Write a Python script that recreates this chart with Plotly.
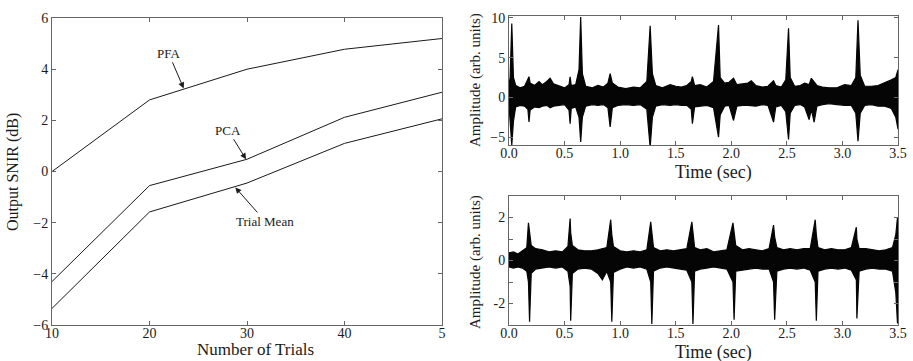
import plotly.graph_objects as go

# ---------------- Left panel data ----------------
trials = [10, 20, 30, 40, 50]
snir_pfa = [0.0, 2.8, 4.0, 4.78, 5.2]
snir_pca = [-4.3, -0.55, 0.48, 2.12, 3.1]
snir_mean = [-5.35, -1.58, -0.45, 1.1, 2.06]
trial_ticks = [10, 20, 30, 40, 50]
trial_ticklabels = ["10", "20", "30", "40", "5"]
snir_ticks = [-6, -4, -2, 0, 2, 4, 6]

# ---------------- Top-right signal envelope ----------------
top_t = [0.00, 0.01, 0.025, 0.04, 0.06, 0.10, 0.14, 0.17, 0.18, 0.19, 0.23, 0.27, 0.30, 0.34,
         0.37, 0.40, 0.45, 0.50, 0.54, 0.55, 0.56, 0.60, 0.63, 0.645, 0.66, 0.69, 0.75, 0.80,
         0.85, 0.89, 0.91, 0.93, 0.98, 1.05, 1.12, 1.18, 1.24, 1.27, 1.29, 1.32, 1.38, 1.45,
         1.50, 1.55, 1.60, 1.64, 1.65, 1.67, 1.72, 1.78, 1.84, 1.885, 1.90, 1.94, 1.98, 2.02,
         2.05, 2.10, 2.15, 2.18, 2.22, 2.28, 2.33, 2.38, 2.40, 2.45, 2.49, 2.515, 2.53, 2.57,
         2.62, 2.66, 2.70, 2.72, 2.745, 2.77, 2.82, 2.88, 2.95, 3.02, 3.08, 3.12, 3.14, 3.16,
         3.20, 3.26, 3.32, 3.38, 3.44, 3.48, 3.50]
top_upper = [1.5, 2.5, 9.3, 2.5, 1.5, 1.2, 1.4, 2.3, 2.6, 1.8, 1.5, 2.0, 1.6, 2.0,
             2.4, 1.7, 1.4, 1.2, 1.6, 2.6, 1.5, 1.6, 3.5, 10.1, 3.0, 1.4, 1.2, 1.5,
             1.3, 1.8, 3.0, 1.8, 1.3, 1.1, 1.3, 1.2, 2.0, 9.0, 3.0, 1.5, 1.2, 1.6,
             1.4, 1.3, 1.5, 2.0, 2.6, 1.5, 1.6, 1.3, 2.0, 9.1, 2.5, 1.8, 1.9, 2.4,
             1.6, 1.7, 1.8, 2.1, 1.5, 1.3, 1.4, 2.1, 1.5, 1.3, 2.2, 8.7, 2.5, 1.4,
             1.5, 1.8, 1.6, 2.4, 2.0, 1.5, 1.3, 1.2, 1.2, 1.6, 1.5, 2.5, 9.7, 2.8,
             1.4, 1.4, 1.5, 1.8, 2.2, 2.5, 3.5]
top_lower = [-1.0, -2.5, -6.0, -3.0, -1.2, -1.0, -1.1, -1.5, -3.1, -1.6, -1.2, -1.3, -1.1, -1.0,
             -1.3, -1.1, -1.0, -0.9, -1.6, -3.3, -1.4, -1.2, -2.5, -5.6, -2.5, -1.1, -0.9, -1.0,
             -0.9, -1.3, -3.7, -1.3, -1.0, -0.9, -1.0, -0.9, -1.5, -6.3, -2.5, -1.1, -0.9, -1.0,
             -0.9, -1.0, -1.0, -1.5, -3.3, -1.2, -1.1, -1.0, -1.3, -5.0, -2.2, -1.1, -1.0, -2.9,
             -1.1, -1.0, -1.0, -1.0, -1.1, -0.9, -1.0, -3.1, -1.2, -1.0, -1.8, -5.3, -2.0, -1.0,
             -0.9, -1.2, -2.8, -1.5, -3.1, -1.1, -0.9, -0.8, -0.9, -1.0, -1.0, -2.0, -5.5, -2.0,
             -1.0, -0.9, -1.1, -1.1, -1.4, -2.5, -4.0]
top_yticks = [-5, 0, 5, 10]

# ---------------- Bottom-right signal envelope ----------------
bot_t = [0.00, 0.04, 0.08, 0.12, 0.16, 0.175, 0.185, 0.20, 0.24, 0.30, 0.36, 0.42, 0.48, 0.53,
         0.55, 0.555, 0.57, 0.62, 0.68, 0.74, 0.80, 0.84, 0.88, 0.915, 0.925, 0.94, 1.00, 1.06,
         1.12, 1.18, 1.24, 1.275, 1.285, 1.30, 1.36, 1.42, 1.48, 1.54, 1.60, 1.645, 1.655, 1.67,
         1.72, 1.78, 1.84, 1.90, 1.96, 2.015, 2.025, 2.04, 2.10, 2.16, 2.22, 2.28, 2.34, 2.38,
         2.39, 2.41, 2.47, 2.53, 2.59, 2.65, 2.71, 2.755, 2.765, 2.78, 2.84, 2.90, 2.96, 3.02,
         3.08, 3.125, 3.13, 3.15, 3.21, 3.27, 3.33, 3.39, 3.45, 3.48, 3.495, 3.50]
bot_upper = [0.35, 0.4, 0.3, 0.45, 0.6, 1.75, 1.2, 0.7, 0.55, 0.5, 0.4, 0.45, 0.4, 0.65,
             1.95, 1.3, 0.7, 0.5, 0.45, 0.45, 0.5, 0.55, 0.6, 1.9, 1.2, 0.65, 0.45, 0.4,
             0.45, 0.4, 0.5, 1.8, 1.2, 0.6, 0.45, 0.5, 0.45, 0.5, 0.55, 1.8, 1.2, 0.6,
             0.5, 0.55, 0.4, 0.45, 0.5, 1.75, 1.2, 0.7, 0.5, 0.55, 0.5, 0.45, 0.55, 1.65,
             1.1, 0.6, 0.5, 0.55, 0.5, 0.55, 0.55, 1.9, 1.2, 0.6, 0.5, 0.55, 0.5, 0.5,
             0.6, 1.55, 1.0, 0.55, 0.55, 0.5, 0.45, 0.5, 0.6, 1.2, 2.0, 1.5]
bot_lower = [-0.3, -0.35, -0.3, -0.35, -0.5, -1.0, -2.85, -0.6, -0.4, -0.35, -0.3, -0.35, -0.3, -0.5,
             -1.2, -2.8, -0.6, -0.4, -0.35, -0.4, -0.6, -0.9, -0.5, -1.0, -2.85, -0.55, -0.4, -0.3,
             -0.35, -0.3, -0.4, -1.0, -2.95, -0.5, -0.35, -0.3, -0.35, -0.4, -0.45, -1.0, -2.95, -0.5,
             -0.4, -0.35, -0.3, -0.35, -0.4, -1.0, -2.75, -0.5, -0.45, -0.4, -0.35, -0.4, -0.4, -1.0,
             -2.75, -0.5, -0.4, -0.35, -0.4, -0.35, -0.45, -1.0, -2.8, -0.5, -0.4, -0.35, -0.4, -0.35,
             -0.45, -0.9, -2.7, -0.5, -0.4, -0.35, -0.4, -0.4, -0.5, -1.5, -2.9, -2.9]
bot_yticks = [-2, -1, 0, 1, 2]
bot_yticklabels = ["-2", "", "0", "", "2"]

time_ticks = [0.0, 0.5, 1.0, 1.5, 2.0, 2.5, 3.0, 3.5]
time_ticklabels = ["0.0", "0.5", "1.0", "1.5", "2.0", "2.5", "3.0", "3.5"]

FONT = "Liberation Serif"
INK = "#1a1a1a"
FRAME = "#666666"

fig = go.Figure()

# left panel lines
for ys in (snir_pfa, snir_pca, snir_mean):
    fig.add_trace(go.Scatter(x=trials, y=ys, mode="lines", line=dict(color=INK, width=1),
                             xaxis="x", yaxis="y", showlegend=False, hoverinfo="skip"))

# signal envelopes
fig.add_trace(go.Scatter(x=top_t + top_t[::-1], y=top_upper + top_lower[::-1], mode="lines",
                         fill="toself", fillcolor="#050505", line=dict(color="#050505", width=1.2),
                         xaxis="x2", yaxis="y2", showlegend=False, hoverinfo="skip"))
fig.add_trace(go.Scatter(x=bot_t + bot_t[::-1], y=bot_upper + bot_lower[::-1], mode="lines",
                         fill="toself", fillcolor="#050505", line=dict(color="#050505", width=1.2),
                         xaxis="x3", yaxis="y3", showlegend=False, hoverinfo="skip"))

axis_common = dict(showline=True, linecolor=FRAME, linewidth=1, mirror="ticks", ticks="inside",
                   ticklen=4, tickcolor=FRAME, showgrid=False, zeroline=False, automargin=False,
                   tickfont=dict(family=FONT, size=14, color=INK))
xaxis_extra = dict(ticklabelstandoff=-5)

fig.update_layout(
    width=913, height=361,
    margin=dict(l=0, r=0, t=0, b=0),
    paper_bgcolor="white", plot_bgcolor="white",
    font=dict(family=FONT, color=INK),
    xaxis=dict(domain=[0.0570, 0.4841], range=[10, 50], tickvals=trial_ticks,
               ticktext=trial_ticklabels, anchor="y", **axis_common, **xaxis_extra),
    yaxis=dict(domain=[0.0997, 0.950], range=[-6, 6], tickvals=snir_ticks, anchor="x",
               **axis_common),
    xaxis2=dict(domain=[0.5575, 0.9836], range=[0, 3.5], tickvals=time_ticks,
                ticktext=time_ticklabels, anchor="y2", **axis_common, **xaxis_extra),
    yaxis2=dict(domain=[0.598, 0.956], range=[-6.0, 10.25], tickvals=top_yticks, anchor="x2",
                **axis_common),
    xaxis3=dict(domain=[0.5575, 0.9836], range=[0, 3.5], tickvals=time_ticks,
                ticktext=time_ticklabels, anchor="y3", **axis_common, **xaxis_extra),
    yaxis3=dict(domain=[0.0997, 0.457], range=[-3, 3], tickvals=bot_yticks,
                ticktext=bot_yticklabels, anchor="x3", **axis_common),
)

ann = []
# curve labels with arrows
ann.append(dict(x=23.5, y=3.25, xref="x", yref="y", text="PFA", showarrow=True, arrowhead=2,
                arrowsize=1.2, arrowwidth=1, arrowcolor=INK, ax=-15, ay=-35,
                font=dict(family=FONT, size=13, color=INK)))
ann.append(dict(x=29.9, y=0.48, xref="x", yref="y", text="PCA", showarrow=True, arrowhead=2,
                arrowsize=1.2, arrowwidth=1, arrowcolor=INK, ax=-18, ay=-29,
                font=dict(family=FONT, size=13, color=INK)))
ann.append(dict(x=28.8, y=-0.62, xref="x", yref="y", text="Trial Mean", showarrow=True,
                arrowhead=2, arrowsize=1.2, arrowwidth=1, arrowcolor=INK, ax=30, ay=34,
                font=dict(family=FONT, size=13, color=INK)))

# axis titles
ann.append(dict(x=255 / 913, y=1 - 349 / 361, xref="paper", yref="paper", text="Number of Trials",
                showarrow=False, font=dict(family=FONT, size=17, color=INK),
                xanchor="center", yanchor="middle"))
ann.append(dict(x=13 / 913, y=1 - 172 / 361, xref="paper", yref="paper", text="Output SNIR (dB)",
                showarrow=False, textangle=-90, font=dict(family=FONT, size=16, color=INK),
                xanchor="center", yanchor="middle"))
ann.append(dict(x=475 / 913, y=1 - 80 / 361, xref="paper", yref="paper",
                text="Amplitude (arb. units)", showarrow=False, textangle=-90,
                font=dict(family=FONT, size=15, color=INK), xanchor="center", yanchor="middle"))
ann.append(dict(x=475 / 913, y=1 - 262 / 361, xref="paper", yref="paper",
                text="Amplitude (arb. units)", showarrow=False, textangle=-90,
                font=dict(family=FONT, size=15, color=INK), xanchor="center", yanchor="middle"))
ann.append(dict(x=713 / 913, y=1 - 172 / 361, xref="paper", yref="paper", text="Time (sec)",
                showarrow=False, font=dict(family=FONT, size=18, color=INK),
                xanchor="center", yanchor="middle"))
ann.append(dict(x=713 / 913, y=1 - 352 / 361, xref="paper", yref="paper", text="Time (sec)",
                showarrow=False, font=dict(family=FONT, size=18, color=INK),
                xanchor="center", yanchor="middle"))
fig.update_layout(annotations=ann)

fig.write_html("out.html", config={"displayModeBar": False},
               post_script="document.body.style.margin='0';document.body.style.overflow='hidden';")
